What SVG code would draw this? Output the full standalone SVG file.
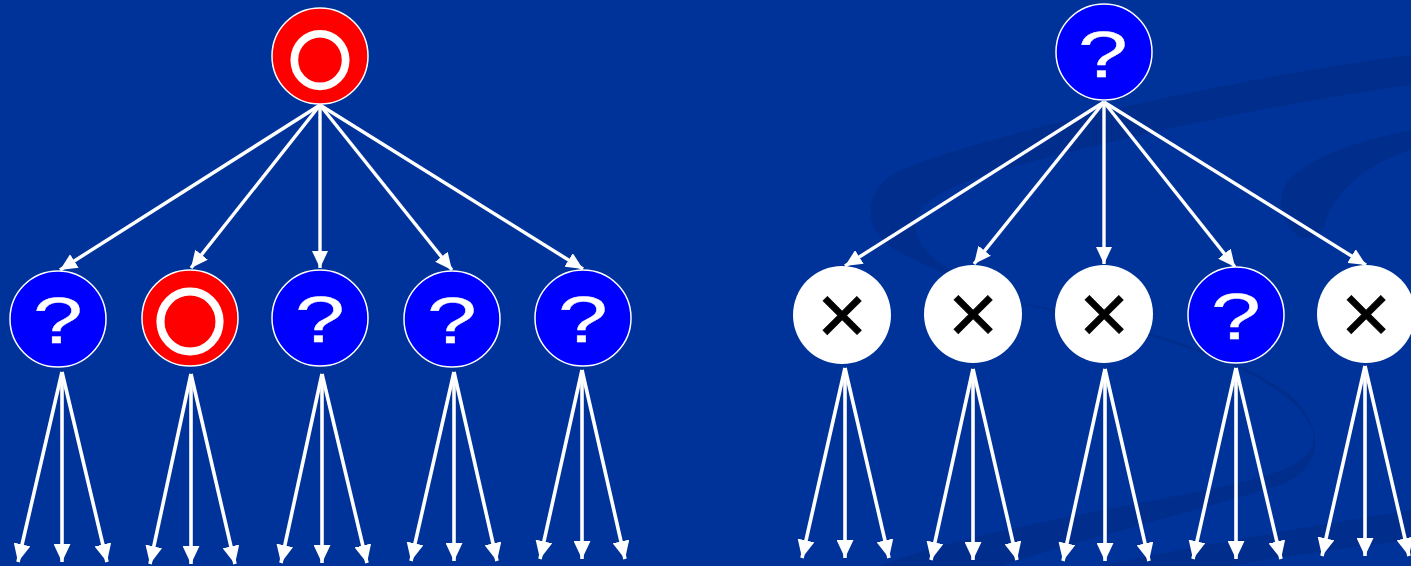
<svg xmlns="http://www.w3.org/2000/svg" width="1411" height="566" viewBox="0 0 1411 566">
<style>
.bg{fill:#003399}
.sw{fill:#012e8d}
.cn line{stroke:#fff;stroke-width:3.4;marker-end:url(#ah)}
.cn .lo line{stroke-width:3.6;marker-end:url(#ah2)}
.blue{fill:#0000ff;stroke:#fff;stroke-width:1.5}
.red{fill:#ff0000;stroke:#fff;stroke-width:1.5}
.wht{fill:#fff}
.q{font-family:"Liberation Sans",Arial,sans-serif;font-size:64px;fill:#fff;stroke:#fff;stroke-width:0.3;text-anchor:middle}
.x{font-family:"Liberation Sans",Arial,sans-serif;font-size:86px;fill:#000;stroke:#000;stroke-width:0.8;text-anchor:middle}
.o{font-family:"Noto Sans CJK JP",sans-serif;font-weight:bold;fill:#fff;stroke:#fff;stroke-width:5;text-anchor:middle;dominant-baseline:central}
</style>
<defs>
<marker id="ah" viewBox="0 0 17 16" markerWidth="17" markerHeight="16" refX="17" refY="8" orient="auto" markerUnits="userSpaceOnUse">
<path d="M0,0 L17,8 L0,16 z" fill="#fff"/>
</marker>
<marker id="ah2" viewBox="0 0 18 17" markerWidth="18" markerHeight="17" refX="18" refY="8.5" orient="auto" markerUnits="userSpaceOnUse">
<path d="M0,0 L18,8.5 L0,17 z" fill="#fff"/>
</marker>
</defs>
<rect class="bg" x="0" y="0" width="1411" height="566"/>
<g id="swirl">
<path class="sw" d="M1411,55 C1250,75 1000,130 900,170 C860,190 860,235 905,255 C930,268 960,280 990,295 C960,275 915,255 915,225 C915,200 960,180 1020,165 C1150,130 1300,100 1411,85 Z"/>
<path class="sw" d="M1411,130 C1360,140 1300,160 1285,185 C1275,205 1285,225 1300,238 C1310,240 1320,235 1325,225 C1330,200 1360,165 1411,150 Z"/>
<path class="sw" d="M990,298 C1150,330 1290,370 1312,430 C1325,470 1250,480 1180,495 C1080,515 960,535 880,566 L1000,566 C1080,540 1200,510 1280,485 C1330,465 1320,420 1290,395 C1230,350 1100,315 990,298 Z"/>
<path class="sw" d="M1100,566 C1200,545 1320,525 1411,510 L1411,540 C1330,550 1260,560 1230,566 Z"/>
</g>
<g id="connectors" class="cn">
<g class="up">
<line x1="320" y1="105" x2="60" y2="270"/>
<line x1="320" y1="105" x2="191" y2="268"/>
<line x1="320" y1="105" x2="320" y2="268"/>
<line x1="320" y1="105" x2="452" y2="270"/>
<line x1="320" y1="105" x2="583" y2="269"/>
<line x1="1104" y1="102" x2="845" y2="266"/>
<line x1="1104" y1="102" x2="974" y2="264"/>
<line x1="1104" y1="102" x2="1104" y2="264"/>
<line x1="1104" y1="102" x2="1235" y2="267"/>
<line x1="1104" y1="102" x2="1366" y2="265"/>
</g>
<g class="lo">
<line x1="62" y1="372" x2="18" y2="562"/><line x1="62" y1="372" x2="62" y2="562"/><line x1="62" y1="372" x2="107" y2="562"/>
<line x1="191" y1="374" x2="150" y2="564"/><line x1="191" y1="374" x2="191" y2="564"/><line x1="191" y1="374" x2="235" y2="564"/>
<line x1="322" y1="374" x2="281" y2="563"/><line x1="322" y1="374" x2="322" y2="563"/><line x1="322" y1="374" x2="367" y2="563"/>
<line x1="454" y1="372" x2="411" y2="561"/><line x1="454" y1="372" x2="454" y2="561"/><line x1="454" y1="372" x2="497" y2="561"/>
<line x1="582" y1="370" x2="540" y2="559"/><line x1="582" y1="370" x2="582" y2="559"/><line x1="582" y1="370" x2="625" y2="559"/>
<line x1="845" y1="368" x2="802" y2="558"/><line x1="845" y1="368" x2="845" y2="558"/><line x1="845" y1="368" x2="889" y2="558"/>
<line x1="973" y1="369" x2="931" y2="560"/><line x1="973" y1="369" x2="973" y2="560"/><line x1="973" y1="369" x2="1017" y2="560"/>
<line x1="1105" y1="369" x2="1063" y2="561"/><line x1="1105" y1="369" x2="1105" y2="561"/><line x1="1105" y1="369" x2="1149" y2="561"/>
<line x1="1236" y1="368" x2="1193" y2="559"/><line x1="1236" y1="368" x2="1236" y2="559"/><line x1="1236" y1="368" x2="1281" y2="559"/>
<line x1="1365" y1="366" x2="1322" y2="556"/><line x1="1365" y1="366" x2="1365" y2="556"/><line x1="1365" y1="366" x2="1409" y2="556"/>
</g>
</g>
<g id="L0"><circle class="red" cx="320" cy="56" r="48"/><text class="o" x="320" y="56" font-size="60">○</text></g>
<g id="L1"><circle class="blue" cx="58" cy="319" r="48"/><text class="q" transform="translate(58,343) scale(1.4,1)">?</text></g>
<g id="L2"><circle class="red" cx="190" cy="318" r="48"/><text class="o" x="190" y="318" font-size="69">○</text></g>
<g id="L3"><circle class="blue" cx="320" cy="318" r="48"/><text class="q" transform="translate(320,342) scale(1.4,1)">?</text></g>
<g id="L4"><circle class="blue" cx="452" cy="319" r="48"/><text class="q" transform="translate(452,343) scale(1.4,1)">?</text></g>
<g id="L5"><circle class="blue" cx="583" cy="318" r="48"/><text class="q" transform="translate(583,342) scale(1.4,1)">?</text></g>
<g id="R0"><circle class="blue" cx="1104" cy="52" r="48"/><text class="q" transform="translate(1103,77) scale(1.4,1)">?</text></g>
<g id="R1"><circle class="wht" cx="842" cy="315" r="49"/><text class="x" x="842" y="344">×</text></g>
<g id="R2"><circle class="wht" cx="973" cy="314" r="49"/><text class="x" x="973" y="343">×</text></g>
<g id="R3"><circle class="wht" cx="1104" cy="314" r="49"/><text class="x" x="1104" y="343">×</text></g>
<g id="R4"><circle class="blue" cx="1236" cy="315" r="48"/><text class="q" transform="translate(1236,339) scale(1.4,1)">?</text></g>
<g id="R5"><circle class="wht" cx="1366" cy="314" r="49"/><text class="x" x="1366" y="343">×</text></g>
</svg>
